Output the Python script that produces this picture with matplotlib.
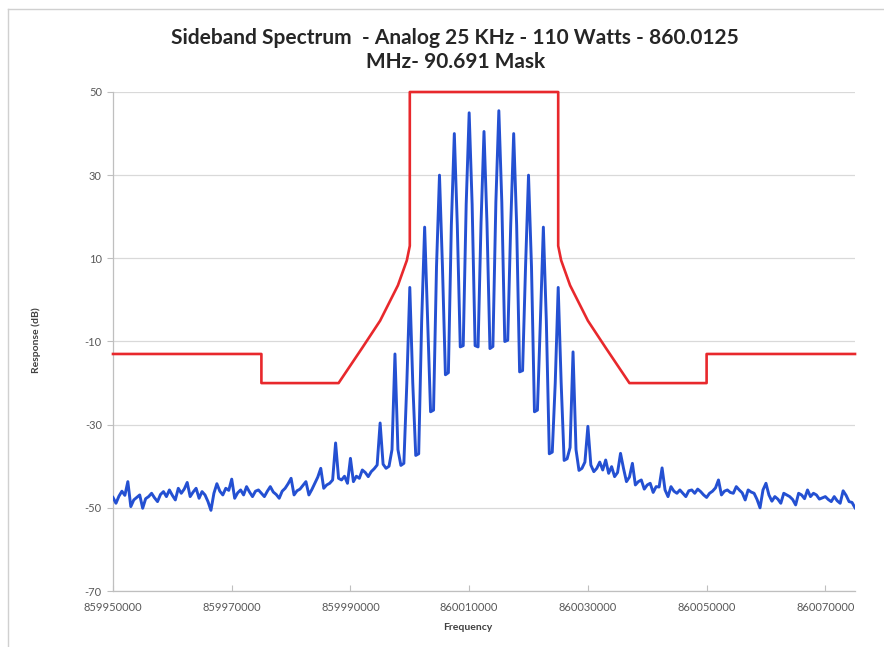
import numpy as np
import matplotlib
matplotlib.use("Agg")
import matplotlib.pyplot as plt
from matplotlib.lines import Line2D

plt.rcParams["font.family"] = ["Lato", "DejaVu Sans"]

# Spectrum analyser trace, one reading every 500 Hz
F_START = 859950000
F_STOP = 860075000
F_STEP = 500
response_db = [
    -47.5, -48.9, -47.2, -46.0, -47.0, -43.7, -49.7, -48.1, -47.5, -46.9,
    -50.1, -47.8, -47.3, -46.5, -47.6, -48.5, -46.8, -46.1, -47.3, -45.7,
    -47.0, -48.1, -45.3, -46.5, -45.5, -43.9, -47.3, -46.2, -45.3, -47.7,
    -46.1, -46.9, -48.5, -50.6, -46.5, -44.2, -46.0, -46.9, -45.3, -45.8,
    -43.1, -47.7, -46.4, -45.7, -46.9, -44.9, -46.2, -47.3, -46.0, -45.7,
    -46.5, -47.3, -46.0, -44.9, -46.2, -46.8, -47.7, -46.0, -45.3, -44.2,
    -42.9, -46.9, -45.9, -45.5, -44.6, -43.7, -46.9, -45.6, -44.1, -42.6,
    -40.5, -45.3, -44.5, -44.1, -43.3, -34.4, -42.9, -43.3, -42.4, -44.1,
    -38.1, -43.7, -42.4, -42.9, -40.9, -41.5, -42.5, -41.3, -40.6, -39.7,
    -29.6, -39.5, -40.5, -40.0, -36.0, -13.0, -36.0, -39.8, -39.3, -20.0,
    3.0, -20.0, -37.4, -37.0, -5.0, 17.5, -5.0, -26.9, -26.5, 8.0,
    30.0, 8.0, -18.0, -17.5, 18.0, 40.0, 18.0, -11.3, -11.0, 23.0,
    45.0, 23.0, -11.0, -11.3, 18.5, 40.5, 18.5, -11.7, -11.2, 23.5,
    45.5, 23.5, -10.0, -9.7, 18.0, 40.0, 18.0, -17.3, -17.0, 8.0,
    30.0, 8.0, -26.9, -26.5, -5.0, 17.5, -5.0, -37.0, -36.6, -20.0,
    3.0, -20.0, -38.6, -38.2, -35.5, -12.5, -36.0, -41.0, -40.5, -39.0,
    -30.4, -39.7, -41.3, -40.5, -39.0, -40.9, -38.5, -41.7, -40.1, -42.5,
    -41.5, -36.9, -40.5, -43.7, -42.6, -39.3, -44.5, -43.7, -43.3, -45.5,
    -44.5, -44.1, -46.3, -44.9, -45.0, -40.4, -45.7, -47.3, -44.9, -46.0,
    -46.5, -45.7, -46.5, -47.3, -45.9, -45.7, -46.5, -45.5, -46.1, -46.9,
    -47.5, -46.5, -46.0, -45.2, -43.3, -46.9, -46.0, -45.7, -46.3, -46.5,
    -44.9, -45.7, -46.4, -48.1, -45.7, -46.2, -46.5, -48.0, -50.0, -45.7,
    -44.1, -46.9, -48.4, -47.3, -47.9, -48.9, -46.5, -46.9, -47.3, -48.0,
    -49.3, -46.5, -46.9, -47.8, -45.7, -47.3, -46.5, -46.9, -47.9, -47.6,
    -47.3, -48.0, -48.5, -47.3, -48.3, -48.9, -45.9, -47.0, -48.5, -48.7,
    -50.0,
]
freq_hz = np.arange(F_START, F_STOP + 1, F_STEP)

# emission mask corners
mask_freq = [859950000, 859975000, 859975000, 859988000, 859992000, 859995000,
             859998000, 859999500, 860000000, 860000000, 860025000, 860025000,
             860025500, 860027000, 860030000, 860033000, 860037000, 860050000,
             860050000, 860075000]
mask_db = [-13, -13, -20, -20, -11.5, -5, 3.5, 9.5, 13, 50, 50, 13,
           9.5, 3.5, -5, -11.5, -20, -20, -13, -13]

x_ticks = [859950000, 859970000, 859990000, 860010000, 860030000, 860050000, 860070000]
y_ticks = [-70, -50, -30, -10, 10, 30, 50]

fig = plt.figure(figsize=(8.84, 6.47), dpi=100)
ax = fig.add_axes([113 / 884, 1 - 591 / 647, (855 - 113) / 884, (591 - 92) / 647])

ax.plot(freq_hz, response_db, color="#2450d2", linewidth=2.1, zorder=3)
ax.plot(mask_freq, mask_db, color="#e8282c", linewidth=1.9, zorder=4, clip_on=False)

ax.set_xlim(F_START, F_STOP)
ax.set_ylim(-70, 50)
ax.set_xticks(x_ticks)
ax.set_xticklabels([str(t) for t in x_ticks])
ax.set_yticks(y_ticks)
ax.set_yticklabels([str(t) for t in y_ticks])

ax.grid(axis="y", color="#d9d9d9", linewidth=0.9)
ax.set_axisbelow(True)
for side in ["top", "right"]:
    ax.spines[side].set_visible(False)
for side in ["left", "bottom"]:
    ax.spines[side].set_color("#bfbfbf")
    ax.spines[side].set_linewidth(0.9)

ax.tick_params(axis="y", direction="out", length=4, color="#bfbfbf",
               labelsize=8, labelcolor="#595959", pad=4)
ax.tick_params(axis="x", direction="in", length=4, color="#bfbfbf",
               labelsize=8, labelcolor="#595959", pad=8)

ax.set_xlabel("Frequency", fontsize=7.5, fontweight="bold", color="#404040")
ax.set_ylabel("Response (dB)", fontsize=7.5, fontweight="bold", color="#404040")
ax.xaxis.set_label_coords((468 - 113) / 742, -(628 - 591) / 499)
ax.yaxis.set_label_coords(-(113 - 36) / 742, (591 - 340) / 499)
ax.xaxis.label.set_va("center")
ax.yaxis.label.set_va("center")

fig.text(0.515, 1 - 38 / 647, "Sideband Spectrum  - Analog 25 KHz - 110 Watts - 860.0125",
         ha="center", va="center", fontsize=15, fontweight="bold", color="#262626")
fig.text(0.515, 1 - 62 / 647, "MHz- 90.691 Mask",
         ha="center", va="center", fontsize=15, fontweight="bold", color="#262626")

# thin frame of the pasted chart
fig.add_artist(Line2D([8 / 884, 1], [1 - 9 / 647, 1 - 9 / 647], color="#d0d0d0", linewidth=1))
fig.add_artist(Line2D([8 / 884, 8 / 884], [0, 1 - 9 / 647], color="#d0d0d0", linewidth=1))

fig.savefig("out.png", dpi=100)
